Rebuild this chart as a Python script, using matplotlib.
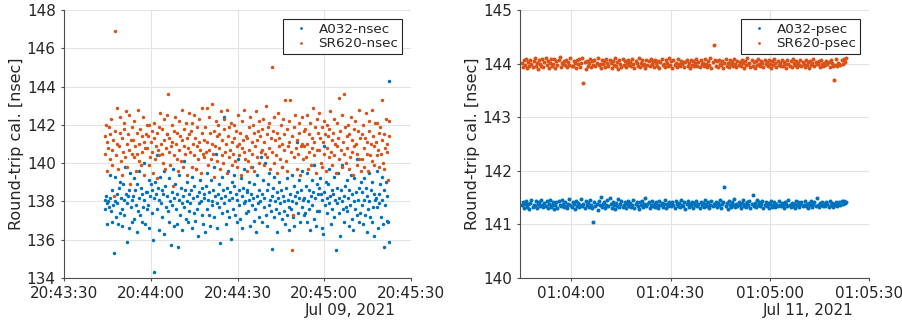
import numpy as np
import matplotlib
matplotlib.use("Agg")
import matplotlib.pyplot as plt
import matplotlib.dates as mdates
from datetime import datetime, timedelta

# colores estilo matlab
BLUE = '#0072BD'
ORANGE = '#D95319'
DARK = '#262626'

# --- 09 jul 2021, medida en nsec ---
t0_nsec = datetime(2021, 7, 9, 20, 43, 44)
dur_nsec = 98.5  # segundos
xlim_nsec = (datetime(2021, 7, 9, 20, 43, 30), datetime(2021, 7, 9, 20, 45, 30))
yticks_nsec = [134, 136, 138, 140, 142, 144, 146, 148]

a032_nsec = [
    138.1, 137.6, 138.3, 137.9, 136.8, 138.0, 137.7, 139.4, 138.2, 137.5, 136.9, 138.6, 137.8, 135.3, 138.0, 139.3, 137.2, 138.4, 137.9, 136.8,
    138.7, 137.4, 139.0, 138.2, 137.6, 136.7, 138.9, 138.1, 137.3, 139.8, 138.4, 135.9, 137.9, 138.3, 136.6, 138.6, 139.5, 137.7, 138.1, 136.9,
    138.3, 137.1, 139.2, 138.6, 137.8, 136.4, 138.9, 137.5, 138.2, 139.6, 137.3, 138.7, 136.9, 138.4, 137.7, 140.0, 138.1, 136.8, 138.5, 137.6,
    138.5, 137.8, 139.1, 136.6, 138.3, 138.9, 137.4, 138.6, 136.0, 138.2, 134.3, 139.0, 138.4, 137.6, 140.4, 138.7, 136.5, 138.1, 139.3, 137.9,
    138.6, 137.2, 138.4, 139.6, 136.3, 138.8, 137.7, 141.5, 138.3, 137.5, 139.2, 136.9, 138.0, 135.7, 138.5, 137.8, 139.7, 138.2, 136.7, 138.9,
    137.6, 138.4, 136.8, 135.6, 138.1, 139.4, 137.3, 138.7, 137.9, 136.5, 138.3, 140.1, 137.7, 138.6, 137.1, 138.0, 139.0, 136.9, 138.4, 137.5,
    137.9, 138.6, 136.6, 139.3, 138.2, 137.4, 138.8, 137.0, 139.7, 138.3, 137.6, 136.2, 138.5, 137.9, 139.1, 138.0, 137.3, 138.7, 136.8, 138.4,
    138.2, 136.4, 138.8, 137.6, 139.5, 138.1, 137.3, 138.5, 136.7, 139.1, 138.0, 137.8, 138.6, 137.2, 139.8, 138.3, 140.5, 137.9, 136.6, 138.4,
    137.7, 138.9, 135.85, 138.2, 137.4, 139.3, 138.6, 142.4, 137.9, 138.3, 136.8, 138.7, 137.5, 139.6, 138.1, 137.2, 138.5, 136.05, 139.0, 138.2,
    137.6, 138.8, 139.4, 137.3, 138.4, 136.9, 138.1, 140.2, 137.8, 138.6, 137.1, 139.2, 138.3, 136.6, 138.7, 137.9, 139.7, 138.0, 137.4, 138.5,
    138.6, 137.5, 139.0, 138.1, 136.7, 138.4, 137.8, 139.8, 138.2, 137.0, 138.9, 137.6, 136.4, 138.3, 139.4, 137.9, 138.6, 137.2, 138.0, 140.3,
    136.9, 138.4, 139.1, 137.7, 138.2, 140.0, 137.3, 138.6, 136.7, 138.9, 137.8, 139.5, 138.1, 137.5, 138.3, 135.5, 138.7, 137.2, 139.3, 138.0,
    137.6, 138.5, 136.4, 138.2, 137.4, 139.0, 137.9, 138.6, 137.1, 139.8, 138.3, 137.5, 138.0, 136.8, 138.7, 137.3, 139.2, 138.1, 137.7, 136.5,
    138.4, 137.6, 139.4, 138.0, 137.2, 138.8, 136.7, 138.3, 137.9, 141.1, 138.5, 137.4, 139.1, 138.2, 136.9, 138.6, 137.7, 139.6, 138.1, 137.3,
    138.2, 137.4, 138.8, 136.9, 139.5, 138.0, 137.6, 138.6, 136.5, 138.3, 139.1, 137.8, 138.5, 137.1, 139.9, 138.2, 136.7, 138.9, 137.5, 138.4,
    138.7, 137.5, 139.2, 138.4, 136.6, 138.1, 136.3, 140.9, 138.5, 137.8, 139.0, 138.2, 137.4, 138.9, 137.9, 139.7, 138.3, 136.8, 138.6, 137.6,
    138.4, 139.3, 137.2, 138.1, 135.45, 138.7, 137.9, 139.5, 138.2, 137.4, 136.2, 138.6, 138.0, 139.9, 137.6, 138.3, 136.9, 138.8, 137.7, 139.1,
    137.5, 138.2, 136.7, 138.6, 137.8, 139.4, 137.1, 138.4, 136.5, 138.0, 139.2, 137.6, 138.5, 137.3, 140.2, 138.1, 136.9, 138.7, 137.4, 139.0,
    137.8, 138.5, 136.8, 139.2, 138.1, 137.3, 138.7, 136.4, 138.3, 137.6, 139.5, 138.0, 137.2, 138.6, 136.9, 139.0, 137.7, 138.4, 136.2, 138.1,
    138.2, 137.7, 139.6, 136.6, 138.4, 137.9, 138.9, 137.2, 139.3, 138.1, 136.8, 138.6, 135.6, 137.8, 139.0, 138.3, 137.0, 136.9, 135.9, 144.3,
]

sr620_nsec = [
    141.4, 140.5, 142.0, 139.6, 141.1, 140.8, 141.9, 140.2, 141.5, 142.3, 139.9, 140.7, 141.2, 138.3, 141.7, 146.9, 140.4, 142.9, 141.0, 139.7,
    140.9, 141.6, 142.4, 140.1, 141.3, 139.4, 140.6, 142.1, 141.8, 140.3, 142.7, 141.0, 139.8, 141.5, 140.7, 142.5, 138.9, 141.2, 140.5, 141.9,
    141.2, 140.3, 142.2, 140.9, 139.6, 141.6, 140.5, 142.8, 141.0, 140.1, 141.8, 139.9, 141.4, 140.6, 142.4, 141.1, 139.4, 140.8, 141.5, 142.0,
    140.8, 141.4, 139.9, 142.0, 140.3, 141.1, 140.6, 141.7, 139.5, 141.3, 142.1, 140.2, 140.9, 141.6, 139.2, 140.7, 141.9, 140.4, 142.6, 141.0,
    140.5, 141.8, 140.0, 142.3, 141.2, 139.7, 140.8, 141.5, 142.5, 143.6, 140.6, 141.3, 139.9, 140.9, 142.0, 141.1, 138.8, 140.4, 141.7, 142.4,
    141.0, 140.2, 141.6, 139.6, 142.2, 140.7, 141.4, 140.1, 142.8, 141.2, 139.8, 140.9, 141.8, 140.5, 142.1, 141.3, 139.4, 140.8, 142.6, 141.5,
    140.6, 141.7, 139.8, 142.1, 141.0, 140.4, 142.5, 141.3, 139.7, 140.9, 141.9, 140.2, 142.3, 141.1, 140.7, 139.5, 141.6, 142.9, 140.5, 141.2,
    140.3, 141.9, 140.6, 142.9, 141.1, 139.9, 140.7, 142.4, 141.6, 140.2, 143.1, 141.0, 140.5, 141.7, 139.3, 140.9, 142.2, 141.4, 140.1, 142.0,
    140.8, 141.5, 139.7, 142.7, 140.4, 141.2, 140.0, 141.8, 142.3, 140.6, 141.0, 139.5, 142.8, 141.4, 140.3, 141.9, 140.7, 142.1, 139.9, 141.1,
    140.5, 142.0, 141.3, 140.1, 141.7, 139.8, 140.9, 142.5, 141.0, 140.4, 141.6, 139.4, 140.8, 142.2, 141.2, 140.6, 142.8, 140.2, 141.4, 139.6,
    141.3, 140.1, 141.9, 140.7, 142.4, 139.8, 141.1, 140.5, 142.0, 141.6, 139.6, 140.9, 142.7, 141.2, 140.3, 141.7, 140.0, 142.2, 141.4, 140.6,
    141.8, 140.7, 142.3, 141.1, 139.9, 140.5, 143.0, 141.5, 140.3, 141.9, 140.8, 142.1, 139.7, 141.3, 140.6, 145.0, 141.7, 140.0, 142.4, 141.2,
    140.4, 141.6, 139.5, 142.6, 140.9, 141.3, 140.2, 142.0, 141.0, 139.8, 142.3, 140.7, 141.5, 143.3, 140.1, 141.8, 139.6, 140.9, 142.2, 141.1,
    143.3, 140.6, 135.45, 141.4, 137.3, 140.3, 141.9, 142.5, 140.8, 139.7, 141.2, 140.5, 142.1, 141.6, 139.4, 140.9, 142.4, 141.0, 140.2, 141.7,
    140.9, 141.8, 140.3, 142.5, 141.0, 139.7, 141.5, 140.6, 142.1, 139.9, 141.3, 140.8, 142.9, 141.1, 140.4, 141.9, 139.5, 140.7, 142.3, 141.6,
    140.7, 142.6, 141.3, 140.0, 141.9, 139.8, 141.1, 142.2, 140.5, 141.5, 139.6, 140.8, 142.0, 141.4, 140.3, 141.8, 142.7, 140.6, 139.9, 141.2,
    141.6, 140.4, 142.3, 141.0, 139.5, 140.9, 142.1, 141.3, 140.2, 143.4, 141.7, 140.7, 139.8, 142.5, 141.1, 140.5, 143.6, 141.9, 140.0, 141.4,
    140.8, 142.0, 139.7, 141.5, 140.3, 142.4, 141.2, 140.6, 139.4, 141.8, 140.9, 142.2, 141.0, 139.9, 140.5, 141.7, 142.8, 140.2, 141.3, 139.6,
    141.5, 140.2, 142.0, 140.8, 139.8, 141.3, 142.6, 140.5, 141.1, 139.6, 142.2, 141.7, 140.4, 141.0, 142.8, 140.1, 141.4, 139.9, 140.9, 142.1,
    141.1, 140.4, 142.1, 140.7, 141.6, 139.8, 141.9, 140.5, 143.3, 141.2, 140.0, 141.5, 139.7, 140.8, 142.3, 141.0, 140.6, 139.1, 142.2, 141.4,
]

# --- 11 jul 2021, medida en psec ---
t0_psec = datetime(2021, 7, 11, 1, 3, 45)
dur_psec = 98.0
xlim_psec = (datetime(2021, 7, 11, 1, 3, 44, 500000), datetime(2021, 7, 11, 1, 5, 30))
yticks_psec = [140, 141, 142, 143, 144, 145]

a032_psec = [
    141.36, 141.42, 141.31, 141.39, 141.44, 141.33, 141.38, 141.29, 141.40, 141.45, 141.32, 141.37, 141.35, 141.43, 141.30, 141.38, 141.41, 141.34, 141.46, 141.36,
    141.32, 141.40, 141.35, 141.44, 141.30, 141.38, 141.46, 141.33, 141.37, 141.42, 141.28, 141.36, 141.41, 141.31, 141.43, 141.37, 141.34, 141.45, 141.39, 141.32,
    141.41, 141.35, 141.30, 141.39, 141.47, 141.36, 141.33, 141.42, 141.38, 141.29, 141.44, 141.35, 141.40, 141.32, 141.37, 141.48, 141.34, 141.39, 141.31, 141.43,
    141.36, 141.40, 141.33, 141.45, 141.37, 141.30, 141.05, 141.41, 141.35, 141.38, 141.27, 141.43, 141.36, 141.52, 141.33, 141.39, 141.42, 141.31, 141.37, 141.46,
    141.34, 141.50, 141.38, 141.31, 141.42, 141.36, 141.29, 141.40, 141.35, 141.47, 141.32, 141.39, 141.44, 141.33, 141.37, 141.41, 141.30, 141.38, 141.43, 141.35,
    141.40, 141.33, 141.37, 141.45, 141.31, 141.38, 141.42, 141.35, 141.29, 141.41, 141.36, 141.44, 141.32, 141.39, 141.50, 141.34, 141.38, 141.42, 141.30, 141.37,
    141.43, 141.35, 141.39, 141.32, 141.41, 141.37, 141.30, 141.44, 141.36, 141.40, 141.33, 141.38, 141.45, 141.31, 141.39, 141.35, 141.42, 141.37, 141.34, 141.41,
    141.36, 141.30, 141.43, 141.38, 141.34, 141.40, 141.32, 141.46, 141.37, 141.35, 141.41, 141.29, 141.39, 141.44, 141.33, 141.38, 141.36, 141.42, 141.31, 141.40,
    141.37, 141.43, 141.34, 141.39, 141.31, 141.42, 141.36, 141.40, 141.33, 141.45, 141.38, 141.35, 141.41, 141.30, 141.37, 141.44, 141.34, 141.39, 141.36, 141.42,
    141.33, 141.40, 141.37, 141.45, 141.31, 141.38, 141.42, 141.70, 141.35, 141.40, 141.28, 141.44, 141.37, 141.33, 141.41, 141.36, 141.48, 141.32, 141.39, 141.35,
    141.42, 141.37, 141.30, 141.40, 141.45, 141.34, 141.38, 141.32, 141.41, 141.36, 141.43, 141.31, 141.39, 141.55, 141.35, 141.40, 141.33, 141.46, 141.37, 141.41,
    141.34, 141.39, 141.43, 141.31, 141.37, 141.42, 141.35, 141.40, 141.30, 141.38, 141.44, 141.33, 141.36, 141.41, 141.32, 141.39, 141.35, 141.43, 141.37, 141.34,
    141.40, 141.36, 141.31, 141.42, 141.38, 141.34, 141.45, 141.37, 141.32, 141.40, 141.35, 141.39, 141.30, 141.43, 141.36, 141.41, 141.33, 141.38, 141.42, 141.35,
    141.37, 141.43, 141.34, 141.39, 141.31, 141.40, 141.36, 141.44, 141.33, 141.38, 141.41, 141.35, 141.49, 141.37, 141.32, 141.40, 141.36, 141.42, 141.34, 141.39,
    141.35, 141.41, 141.38, 141.32, 141.43, 141.36, 141.40, 141.33, 141.39, 141.37, 141.42, 141.34, 141.38, 141.41, 141.36, 141.44, 141.39, 141.43, 141.40, 141.42,
]

sr620_psec = [
    144.02, 143.93, 144.06, 143.98, 144.09, 143.91, 144.03, 143.96, 144.07, 144.00, 143.94, 144.05, 144.10, 143.95, 144.01, 143.90, 144.06, 143.99, 143.96, 144.08,
    143.94, 144.03, 144.11, 143.97, 144.05, 143.92, 144.01, 144.08, 143.95, 144.00, 144.09, 143.91, 144.04, 143.97, 144.06, 144.13, 143.94, 144.02, 143.99, 144.05,
    143.97, 144.07, 143.93, 144.03, 143.98, 144.10, 143.96, 143.95, 144.04, 144.01, 143.92, 144.06, 143.99, 144.08, 143.94, 144.02, 144.11, 143.63, 144.03, 143.90,
    144.05, 143.96, 144.01, 144.09, 143.93, 144.04, 143.98, 144.07, 143.95, 144.02, 144.10, 143.97, 144.00, 143.91, 144.06, 143.99, 144.04, 143.94, 144.08, 144.01,
    143.95, 144.06, 144.02, 143.92, 144.05, 143.98, 144.11, 143.96, 144.03, 143.90, 144.07, 144.00, 143.94, 144.09, 143.97, 144.04, 143.93, 144.01, 144.06, 143.98,
    144.03, 143.95, 144.08, 143.99, 143.92, 144.05, 144.01, 143.96, 144.10, 143.94, 144.02, 144.06, 143.97, 144.00, 143.91, 144.07, 143.98, 144.04, 143.95, 144.09,
    143.99, 144.04, 143.93, 144.07, 144.01, 143.96, 144.05, 143.92, 144.03, 144.08, 143.97, 144.00, 143.94, 144.06, 144.02, 143.95, 144.10, 143.98, 144.04, 143.91,
    144.06, 143.97, 144.02, 143.94, 144.08, 144.00, 143.95, 144.05, 143.99, 144.03, 143.93, 144.03, 144.07, 143.96, 144.01, 143.92, 144.06, 143.98, 144.04, 143.95,
    144.01, 144.09, 143.96, 144.03, 143.93, 144.06, 143.99, 144.02, 143.95, 144.08, 144.00, 143.94, 144.05, 143.97, 144.10, 143.91, 144.03, 144.35, 144.06, 143.96,
    144.04, 143.94, 144.07, 144.00, 143.97, 144.05, 143.92, 144.02, 144.09, 143.96, 144.01, 143.93, 144.06, 143.99, 144.03, 143.95, 144.08, 144.00, 143.94, 144.05,
    143.98, 144.03, 143.95, 144.07, 144.01, 143.92, 144.04, 143.97, 144.10, 143.99, 144.02, 143.94, 144.06, 143.96, 144.03, 143.91, 144.05, 143.98, 144.08, 144.00,
    143.96, 144.05, 144.01, 143.93, 144.07, 143.99, 144.03, 143.95, 144.06, 144.00, 143.92, 144.04, 143.97, 144.09, 144.02, 143.94, 144.05, 143.98, 144.01, 143.96,
    144.07, 143.95, 144.03, 143.99, 143.91, 144.06, 144.00, 143.96, 144.04, 143.93, 144.08, 144.01, 143.97, 144.05, 143.94, 144.02, 143.98, 144.06, 143.95, 144.03,
    144.00, 143.94, 144.06, 143.98, 144.03, 143.92, 144.05, 143.97, 144.01, 144.08, 143.96, 144.03, 143.99, 143.99, 144.04, 143.93, 144.07, 144.00, 143.95, 144.02,
    143.97, 144.05, 143.99, 144.03, 143.94, 144.06, 144.01, 143.96, 143.70, 143.98, 144.08, 143.95, 144.02, 144.00, 143.97, 144.06, 143.99, 144.09, 144.03, 144.11,
]


def tiempos(t0, dur, n):
    # muestras equiespaciadas entre el inicio y el final de la medida
    paso = dur / (n - 1)
    return [t0 + timedelta(seconds=k * paso) for k in range(n)]


def estiloMatlab(ax):
    ax.spines['top'].set_visible(False)
    ax.spines['right'].set_visible(False)
    for s in ('left', 'bottom'):
        ax.spines[s].set_color('#4d4d4d')
        ax.spines[s].set_linewidth(0.8)
    ax.tick_params(direction='out', length=2.5, width=0.8, color='#4d4d4d',
                   labelcolor=DARK, labelsize=11)
    ax.grid(True, color='#e3e3e3', linewidth=0.8)
    ax.set_axisbelow(True)
    ax.xaxis.set_major_locator(mdates.SecondLocator(bysecond=[0, 30]))
    ax.xaxis.set_major_formatter(mdates.DateFormatter('%H:%M:%S'))


def dibuja(ax, t0, dur, serieA, serieB, nombres, xlim, yticks, fecha, ms):
    ax.plot(tiempos(t0, dur, len(serieA)), serieA, 'o', ms=ms, mew=0, color=BLUE, label=nombres[0])
    ax.plot(tiempos(t0, dur, len(serieB)), serieB, 'o', ms=ms, mew=0, color=ORANGE, label=nombres[1])
    ax.set_xlim(*xlim)
    ax.set_ylim(yticks[0], yticks[-1])
    ax.set_yticks(yticks)
    estiloMatlab(ax)
    ax.set_ylabel('Round-trip cal. [nsec]', fontsize=11.5, color=DARK, labelpad=2)
    ax.text(0.956, -0.095, fecha, transform=ax.transAxes, ha='right', va='top',
            fontsize=11, color=DARK)
    leg = ax.legend(loc='upper right', bbox_to_anchor=(0.975, 0.967), borderaxespad=0,
                    fontsize=9.7, fancybox=False, edgecolor=DARK, framealpha=1,
                    handlelength=2.0, handletextpad=0.3, borderpad=0.3,
                    labelspacing=0.1, markerscale=2.0 / ms)
    leg.get_frame().set_linewidth(0.8)
    for txt in leg.get_texts():
        txt.set_color(DARK)


fig = plt.figure(figsize=(9.03, 3.27), dpi=100)
ax1 = fig.add_axes([0.0709, 0.1498, 0.3843, 0.8196])
ax2 = fig.add_axes([0.5759, 0.1498, 0.3865, 0.8196])

dibuja(ax1, t0_nsec, dur_nsec, a032_nsec, sr620_nsec, ['A032-nsec', 'SR620-nsec'],
       xlim_nsec, yticks_nsec, 'Jul 09, 2021', 2.5)
dibuja(ax2, t0_psec, dur_psec, a032_psec, sr620_psec, ['A032-psec', 'SR620-psec'],
       xlim_psec, yticks_psec, 'Jul 11, 2021', 2.9)

fig.savefig('out.png', dpi=100)
